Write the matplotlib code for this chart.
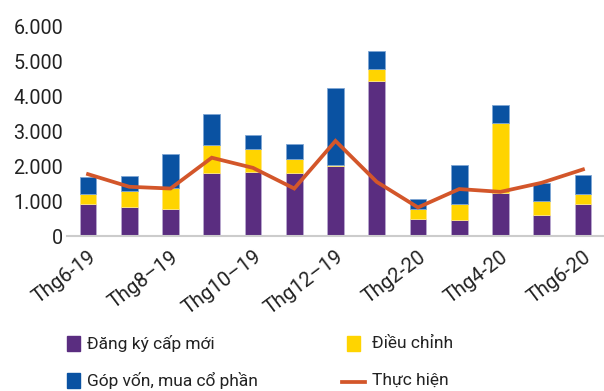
import matplotlib.pyplot as plt
from matplotlib.patches import Rectangle
from matplotlib.lines import Line2D

plt.rcParams['font.family'] = ['Roboto', 'DejaVu Sans']

# Vốn FDI theo tháng (triệu USD)
thang = ["Thg6-19", "Thg7-19", "Thg8–19", "Thg9-19", "Thg10–19", "Thg11-19",
         "Thg12–19", "Thg1-20", "Thg2-20", "Thg3-20", "Thg4-20", "Thg5-20", "Thg6-20"]
dang_ky_moi = [905, 820, 780, 1790, 1820, 1790, 2010, 4440, 495, 460, 1220, 600, 925]
dieu_chinh = [305, 475, 600, 800, 675, 410, 30, 325, 285, 445, 2000, 400, 285]
gop_von = [470, 410, 970, 895, 390, 420, 2180, 525, 295, 1125, 525, 505, 525]
thuc_hien = [1770, 1410, 1360, 2240, 1950, 1360, 2720, 1550, 820, 1345, 1265, 1525, 1905]

c_tim = "#5A2D80"
c_vang = "#FFD400"
c_xanh = "#0A52A2"
c_cam = "#D3562A"
c_chu = "#222222"

W, H = 604, 391
fig = plt.figure(figsize=(W / 100, H / 100), dpi=100)
ax = fig.add_axes([0.1116, 0.396, 0.8877, 0.5375])

x = list(range(len(thang)))
w = 0.41
day2 = [a + b for a, b in zip(dang_ky_moi, dieu_chinh)]
ax.bar(x, dang_ky_moi, w, color=c_tim, edgecolor="#B9A9CF", linewidth=0.6)
ax.bar(x, dieu_chinh, w, bottom=dang_ky_moi, color=c_vang, edgecolor="#FFE680", linewidth=0.6)
ax.bar(x, gop_von, w, bottom=day2, color=c_xanh, edgecolor="#7FA6D4", linewidth=0.6)
ax.plot(x, thuc_hien, color=c_cam, linewidth=2.7, solid_joinstyle="miter")

ax.set_xlim(-0.5, 12.5)
ax.set_ylim(0, 6000)
ax.set_yticks(range(0, 6001, 1000))
ax.set_yticklabels(["0", "1.000", "2.000", "3.000", "4.000", "5.000", "6.000"],
                   fontsize=14.2, color=c_chu)
ax.set_xticks(x[::2])
ax.set_xticklabels(thang[::2], rotation=37, ha="right", rotation_mode="anchor",
                   fontsize=14.5, color=c_chu)
ax.tick_params(axis="y", length=0, pad=3)
ax.tick_params(axis="x", length=0, pad=8)

for s in ["top", "right", "left"]:
    ax.spines[s].set_visible(False)
ax.spines["bottom"].set_color("#CCCCCC")
ax.spines["bottom"].set_linewidth(1.5)

# chú thích đặt thủ công theo pixel
def px(xp, yp):
    return xp / W, 1 - yp / H

def o_vuong(x0, yc, mau):
    fx, fy = px(x0, yc + 7.5)
    fig.add_artist(Rectangle((fx, fy), 13 / W, 15 / H, color=mau,
                             transform=fig.transFigure))

def nhan(x0, yc, chu):
    fx, fy = px(x0, yc)
    fig.text(fx, fy, chu, fontsize=12.5, color=c_chu, ha="left", va="center")

o_vuong(67, 343, c_tim)
nhan(87, 343, "Đăng ký cấp mới")
o_vuong(347, 343, c_vang)
nhan(372, 343, "Điều chỉnh")
o_vuong(67, 380, c_xanh)
nhan(87, 380, "Góp vốn, mua cổ phần")
lx0, ly = px(342, 382)
lx1, _ = px(365, 382)
fig.add_artist(Line2D([lx0, lx1], [ly, ly], color=c_cam, linewidth=2.7,
                      transform=fig.transFigure))
nhan(372, 380, "Thực hiện")

fig.savefig("out.png", dpi=100)
